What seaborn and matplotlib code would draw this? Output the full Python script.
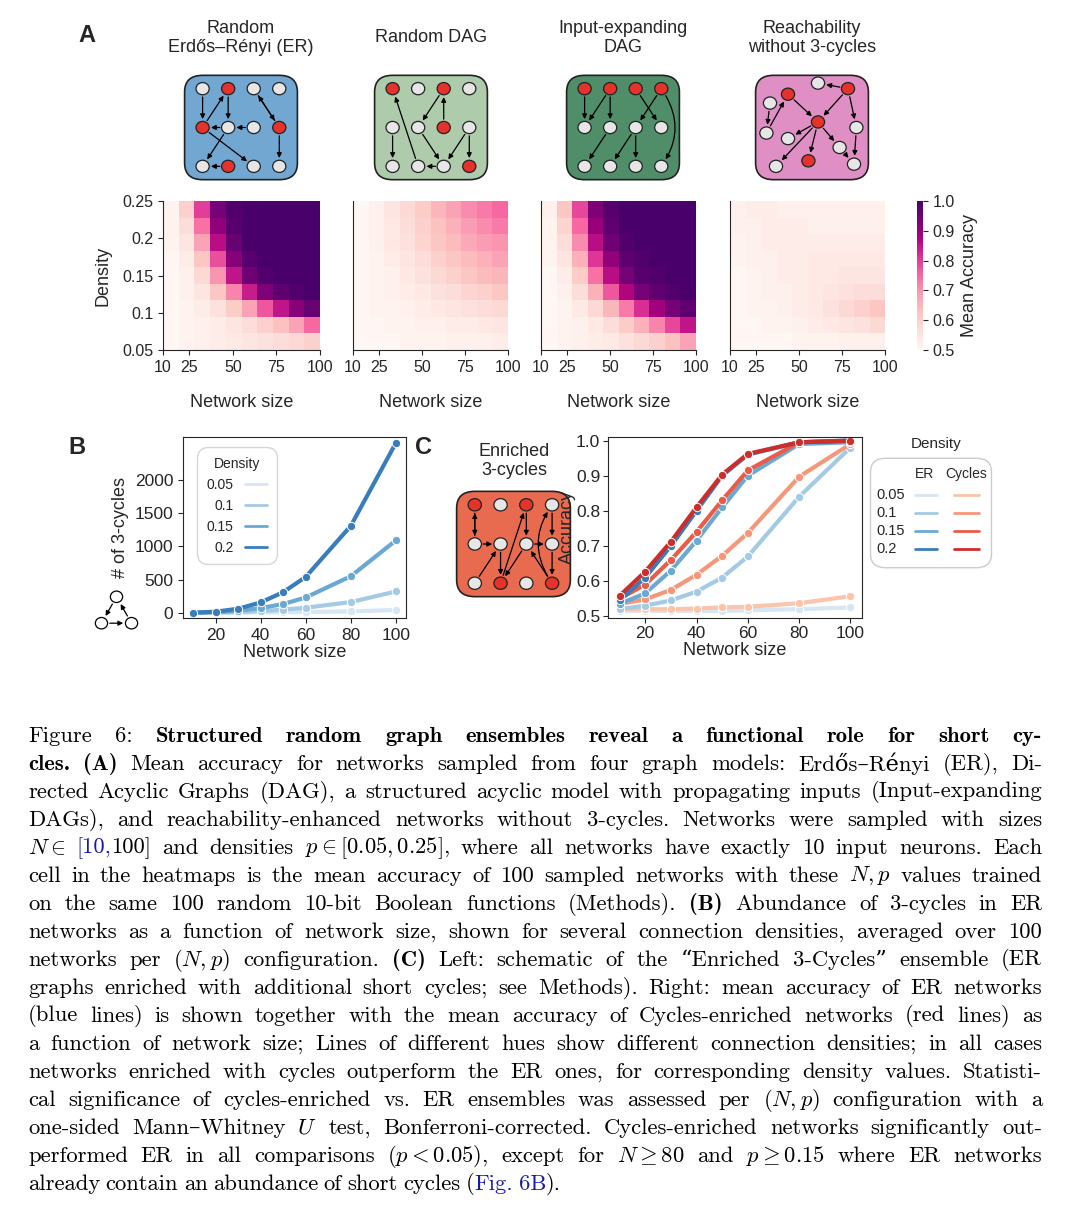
import numpy as np
import pandas as pd
import matplotlib
matplotlib.use("Agg")
import matplotlib.pyplot as plt
import seaborn as sns
from matplotlib.patches import FancyBboxPatch, Circle
from matplotlib.lines import Line2D

sns.set_style("ticks")
plt.rcParams['font.family'] = ['Liberation Sans', 'DejaVu Sans']
plt.rcParams['mathtext.fontset'] = 'cm'

# ---------------- data ----------------
heat_sizes = [10, 20, 30, 40, 50, 60, 70, 80, 90, 100]
heat_dens = [0.05, 0.075, 0.1, 0.125, 0.15, 0.175, 0.2, 0.225, 0.25]  # rows bottom -> top

acc_er = [
    [.50, .51, .52, .53, .54, .55, .56, .57, .58, .60],
    [.50, .51, .52, .53, .55, .57, .60, .63, .68, .75],
    [.50, .51, .53, .56, .61, .68, .77, .85, .92, .96],
    [.50, .52, .55, .62, .72, .84, .93, .97, .99, 1.0],
    [.50, .52, .58, .70, .85, .95, .99, 1.0, 1.0, 1.0],
    [.50, .53, .62, .78, .92, .98, 1.0, 1.0, 1.0, 1.0],
    [.51, .55, .68, .86, .96, 1.0, 1.0, 1.0, 1.0, 1.0],
    [.51, .57, .74, .91, .98, 1.0, 1.0, 1.0, 1.0, 1.0],
    [.51, .60, .80, .94, .99, 1.0, 1.0, 1.0, 1.0, 1.0],
]
acc_dag = [
    [.50, .50, .50, .51, .51, .51, .52, .52, .52, .53],
    [.50, .50, .51, .51, .52, .52, .53, .53, .54, .55],
    [.50, .51, .51, .52, .53, .54, .55, .56, .57, .58],
    [.50, .51, .52, .53, .54, .56, .57, .59, .60, .62],
    [.50, .51, .52, .54, .56, .58, .60, .62, .64, .65],
    [.50, .51, .53, .55, .57, .60, .62, .64, .66, .68],
    [.50, .52, .54, .56, .59, .62, .64, .67, .69, .70],
    [.50, .52, .54, .57, .60, .63, .66, .69, .71, .73],
    [.50, .52, .55, .58, .61, .65, .68, .71, .73, .75],
]
acc_ie = [
    [.50, .51, .52, .53, .54, .56, .58, .60, .63, .68],
    [.50, .51, .52, .54, .57, .61, .66, .72, .79, .85],
    [.50, .51, .54, .58, .65, .73, .82, .89, .94, .97],
    [.50, .52, .57, .66, .77, .87, .94, .97, .99, 1.0],
    [.50, .53, .61, .74, .86, .94, .98, .99, 1.0, 1.0],
    [.51, .55, .66, .81, .91, .97, .99, 1.0, 1.0, 1.0],
    [.51, .57, .71, .86, .95, .99, 1.0, 1.0, 1.0, 1.0],
    [.51, .59, .75, .90, .97, 1.0, 1.0, 1.0, 1.0, 1.0],
    [.52, .62, .79, .93, .98, 1.0, 1.0, 1.0, 1.0, 1.0],
]
acc_reach = [
    [.50, .50, .50, .50, .51, .51, .51, .52, .52, .52],
    [.50, .50, .51, .51, .52, .53, .54, .55, .56, .58],
    [.50, .51, .51, .52, .53, .54, .56, .58, .60, .62],
    [.50, .51, .52, .52, .53, .54, .55, .56, .57, .57],
    [.50, .51, .52, .53, .53, .54, .54, .55, .55, .55],
    [.51, .52, .52, .53, .53, .54, .54, .54, .54, .54],
    [.51, .52, .53, .53, .53, .53, .53, .53, .53, .53],
    [.52, .52, .53, .53, .53, .52, .52, .52, .52, .52],
    [.52, .53, .53, .52, .52, .52, .52, .52, .52, .52],
]
heat_titles = ["Random\nErdős–Rényi (ER)", "Random DAG", "Input-expanding\nDAG",
               "Reachability\nwithout 3-cycles"]

line_sizes = [10, 20, 30, 40, 50, 60, 80, 100]
line_dens = ["0.05", "0.1", "0.15", "0.2"]
cycles_count = {
    "0.05": [0, 0, 2, 4, 7, 10, 20, 40],
    "0.1": [0, 3, 10, 25, 45, 75, 160, 320],
    "0.15": [0, 8, 30, 70, 130, 230, 550, 1090],
    "0.2": [0, 15, 60, 155, 310, 540, 1310, 2560],
}
acc_er_lines = {
    "0.05": [.515, .515, .515, .515, .515, .517, .520, .525],
    "0.1": [.520, .530, .545, .570, .610, .670, .840, .980],
    "0.15": [.535, .565, .630, .715, .810, .900, .990, .995],
    "0.2": [.545, .610, .700, .800, .900, .960, .995, 1.0],
}
acc_cyc_lines = {
    "0.05": [.520, .520, .520, .522, .525, .527, .537, .557],
    "0.1": [.535, .548, .575, .618, .672, .737, .897, .990],
    "0.15": [.550, .590, .660, .740, .830, .915, .995, 1.0],
    "0.2": [.558, .627, .712, .810, .903, .962, .995, .999],
}

W, H = 1080, 1219
fig = plt.figure(figsize=(W / 100, H / 100), dpi=100)


def px_axes(x0, y0, x1, y1):
    return fig.add_axes([x0 / W, 1 - y1 / H, (x1 - x0) / W, (y1 - y0) / H])


# ---------------- schematic graphs ----------------
def grid(c, r):
    return (0.18 + c * 0.213, 0.85 - r * 0.35)


def draw_graph(ax, face, nodes, reds, edges, curved=()):
    ax.set_xlim(0, 1)
    ax.set_ylim(0, 1)
    ax.axis("off")
    ax.add_patch(FancyBboxPatch((0.03, 0.03), 0.94, 0.94, boxstyle="round,pad=0,rounding_size=0.15",
                                fc=face, ec="#222222", lw=1.2))
    for a, b in edges:
        ax.annotate("", xy=nodes[b], xytext=nodes[a],
                    arrowprops=dict(arrowstyle="-|>", color="black", lw=0.9,
                                    shrinkA=6, shrinkB=6, mutation_scale=7))
    for a, b in curved:
        ax.annotate("", xy=nodes[b], xytext=nodes[a],
                    arrowprops=dict(arrowstyle="-|>", color="black", lw=0.9, shrinkA=6, shrinkB=6,
                                    mutation_scale=7, connectionstyle="arc3,rad=-0.35"))
    for k, (x, y) in nodes.items():
        ax.add_patch(Circle((x, y), 0.055, fc="#e5322a" if k in reds else "#e6e6e6",
                            ec="#222222", lw=0.9, zorder=5))


gnodes = {(c, r): grid(c, r) for c in range(4) for r in range(3)}

box_specs = [
    ("#72a7d2", [(1, 0), (0, 1), (3, 1), (1, 2)],
     [((0, 0), (0, 1)), ((0, 1), (1, 0)), ((1, 0), (1, 1)), ((1, 1), (0, 1)), ((2, 1), (1, 1)),
      ((2, 0), (3, 1)), ((3, 1), (2, 0)), ((3, 1), (3, 2)), ((0, 1), (2, 2)), ((1, 1), (0, 2)),
      ((1, 2), (0, 2))], []),
    ("#aecbab", [(0, 0), (2, 0), (2, 1), (3, 2)],
     [((1, 2), (0, 0)), ((2, 1), (2, 0)), ((2, 0), (1, 1)), ((0, 1), (0, 2)), ((1, 1), (2, 2)),
      ((3, 1), (2, 2)), ((2, 2), (1, 2)), ((3, 1), (3, 2))], []),
    ("#4f8e69", [(0, 0), (1, 0), (2, 0), (3, 0)],
     [((0, 0), (0, 1)), ((1, 0), (0, 1)), ((1, 0), (1, 1)), ((2, 0), (3, 1)), ((3, 0), (2, 1)),
      ((1, 1), (0, 2)), ((2, 1), (1, 2)), ((2, 1), (2, 2))], [((3, 0), (3, 2))]),
]
box_x = [(181, 301), (371, 491), (563, 683), (752, 872)]
for i, (face, reds, edges, curved) in enumerate(box_specs):
    ax = px_axes(box_x[i][0], 72, box_x[i][1], 183)
    draw_graph(ax, face, gnodes, reds, edges, curved)

rnodes = {0: (0.15, 0.72), 1: (0.3, 0.8), 2: (0.55, 0.9), 3: (0.8, 0.85), 4: (0.12, 0.45),
          5: (0.3, 0.4), 6: (0.55, 0.55), 7: (0.87, 0.5), 8: (0.2, 0.15), 9: (0.47, 0.2),
          10: (0.73, 0.32), 11: (0.85, 0.17)}
ax = px_axes(752, 72, 872, 183)
draw_graph(ax, "#df8fc4", rnodes, [1, 3, 6, 9],
           [(3, 2), (0, 4), (4, 1), (1, 6), (3, 6), (6, 5), (6, 8), (6, 9), (6, 10), (3, 7), (7, 11), (10, 11)])

# ---------------- heatmaps ----------------
heat_x = [(163, 320), (353, 508), (541, 696), (730, 885)]
cax = px_axes(917, 201, 923, 350)
for i, data in enumerate([acc_er, acc_dag, acc_ie, acc_reach]):
    ax = px_axes(heat_x[i][0], 201, heat_x[i][1], 350)
    df = pd.DataFrame(data[::-1], index=heat_dens[::-1], columns=heat_sizes)
    sns.heatmap(df, ax=ax, cmap="RdPu", vmin=0.5, vmax=1.0, cbar=(i == 0),
                cbar_ax=cax if i == 0 else None, xticklabels=False, yticklabels=False)
    nx, ny = len(heat_sizes), len(heat_dens)
    xt = [10, 25, 50, 75, 100]
    ax.set_xticks([(v - 10) / 90 * nx for v in xt])
    ax.set_xticklabels([str(v) for v in xt], fontsize=11.5, rotation=0)
    ax.set_xlabel("Network size", fontsize=13, labelpad=14)
    ax.spines["left"].set_visible(True)
    ax.spines["bottom"].set_visible(True)
    if i == 0:
        yt = [0.05, 0.1, 0.15, 0.2, 0.25]
        ax.set_yticks([(0.25 - v) / 0.2 * ny for v in yt])
        ax.set_yticklabels([f"{v:g}" for v in yt], fontsize=11.5, rotation=0)
        ax.set_ylabel("Density", fontsize=13, labelpad=8)
    else:
        ax.set_yticks([])
    fig.text((box_x[i][0] + box_x[i][1]) / 2 / W, 1 - 38 / H, heat_titles[i], ha="center",
             va="center", fontsize=13)
cax.set_yticks([0.5, 0.6, 0.7, 0.8, 0.9, 1.0])
cax.tick_params(labelsize=11.5)
cax.set_ylabel("Mean Accuracy", fontsize=13)
fig.text(78 / W, 1 - 36 / H, "A", fontsize=17, fontweight="bold", va="center")

# ---------------- panel B ----------------
blues = {"0.05": "#d6e6f4", "0.1": "#a5cbe4", "0.15": "#6aa9d4", "0.2": "#3a7dbd"}
reds_c = {"0.05": "#fbc5ab", "0.1": "#f4977a", "0.15": "#ea5c49", "0.2": "#cc2e2b"}
rows = []
for d in line_dens:
    for n, v in zip(line_sizes, cycles_count[d]):
        rows.append({"Network size": n, "count": v, "Density": d})
dfb = pd.DataFrame(rows)
axb = px_axes(183, 437, 406, 618)
sns.lineplot(data=dfb, x="Network size", y="count", hue="Density", palette=blues, marker="o",
             lw=3, markersize=6, markeredgecolor="white", markeredgewidth=0.7, ax=axb)
axb.set_ylim(-80, 2650)
axb.set_yticks([0, 500, 1000, 1500, 2000])
axb.set_xticks([20, 40, 60, 80, 100])
axb.tick_params(labelsize=12.5)
axb.set_xlabel("Network size", fontsize=13, labelpad=1)
axb.set_ylabel("# of 3-cycles", fontsize=13, labelpad=4)
leg = axb.legend(title="Density", fontsize=10, title_fontsize=10, loc="upper left",
                 bbox_to_anchor=(0.05, 0.96), markerfirst=False, handlelength=1.6, frameon=True)
for h in leg.get_lines():
    h.set_marker("")
    h.set_linewidth(2)
leg.get_frame().set_boxstyle("round,pad=0.3,rounding_size=0.8")
fig.text(68 / W, 1 - 448 / H, "B", fontsize=17, fontweight="bold", va="center")

tri = px_axes(93, 588, 140, 632)
tri.set_xlim(0, 1); tri.set_ylim(0, 1); tri.axis("off")
tn = {0: (0.5, 0.8), 1: (0.18, 0.2), 2: (0.82, 0.2)}
for a, b in [(0, 1), (1, 2), (2, 0)]:
    tri.annotate("", xy=tn[b], xytext=tn[a], arrowprops=dict(arrowstyle="-|>", lw=0.9,
                 color="black", shrinkA=6, shrinkB=6, mutation_scale=7))
for x, y in tn.values():
    tri.add_patch(Circle((x, y), 0.13, fc="white", ec="black", lw=0.9, zorder=5))

# ---------------- panel C ----------------
fig.text(415 / W, 1 - 448 / H, "C", fontsize=17, fontweight="bold", va="center")
fig.text(514 / W, 1 - 461 / H, "Enriched\n3-cycles", ha="center", va="center", fontsize=13)
ax = px_axes(453, 488, 574, 600)
draw_graph(ax, "#e86a4f", gnodes, [(0, 0), (2, 0), (1, 2), (3, 2)],
           [((0, 0), (0, 1)), ((0, 1), (0, 0)), ((0, 1), (1, 1)), ((0, 2), (1, 1)), ((1, 1), (1, 2)),
            ((1, 2), (2, 0)), ((2, 0), (2, 1)), ((2, 1), (3, 1)), ((3, 0), (3, 1)), ((3, 1), (3, 2)),
            ((3, 2), (2, 1)), ((2, 1), (1, 2))], [((3, 2), (3, 0))])

rows = []
for d in line_dens:
    for n, v in zip(line_sizes, acc_er_lines[d]):
        rows.append({"Network size": n, "acc": v, "key": "ER " + d})
    for n, v in zip(line_sizes, acc_cyc_lines[d]):
        rows.append({"Network size": n, "acc": v, "key": "Cyc " + d})
dfc = pd.DataFrame(rows)
pal = {**{"ER " + d: blues[d] for d in line_dens}, **{"Cyc " + d: reds_c[d] for d in line_dens}}
axc = px_axes(608, 437, 862, 618)
sns.lineplot(data=dfc, x="Network size", y="acc", hue="key", palette=pal, marker="o", lw=3,
             markersize=6, markeredgecolor="white", markeredgewidth=0.7, ax=axc, legend=False)
axc.set_ylim(0.495, 1.01)
axc.set_yticks([0.5, 0.6, 0.7, 0.8, 0.9, 1.0])
axc.set_xticks([20, 40, 60, 80, 100])
axc.tick_params(labelsize=12.5, pad=2)
axc.set_xlabel("Network size", fontsize=13, labelpad=1)
axc.set_ylabel("Accuracy", fontsize=13, labelpad=0)

lg = px_axes(868, 456, 994, 570)
lg.set_xlim(0, 1); lg.set_ylim(0, 1); lg.axis("off")
lg.add_patch(FancyBboxPatch((0.02, 0.02), 0.96, 0.96, boxstyle="round,pad=0,rounding_size=0.12",
                            fc="white", ec="#cccccc", lw=1))
fig.text(936 / W, 1 - 444 / H, "Density", ha="center", va="center", fontsize=11)
lg.text(0.45, 0.84, "ER", ha="center", va="center", fontsize=10)
lg.text(0.78, 0.84, "Cycles", ha="center", va="center", fontsize=10)
for j, d in enumerate(line_dens):
    yy = 0.66 - j * 0.16
    lg.text(0.07, yy, d, va="center", fontsize=10.5)
    lg.add_line(Line2D([0.37, 0.55], [yy, yy], color=blues[d], lw=2))
    lg.add_line(Line2D([0.68, 0.88], [yy, yy], color=reds_c[d], lw=2))

# ---------------- caption ----------------
# words: "*" = bold, "#" = link colour, trailing "^" = no space after
caption = [
    "Figure 6: *Structured *random *graph *ensembles *reveal *a *functional *role *for *short *cy-",
    "*cles. *(A) Mean accuracy for networks sampled from four graph models: Erdős–Rényi (ER), Di-",
    "rected Acyclic Graphs (DAG), a structured acyclic model with propagating inputs (Input-expanding",
    "DAGs), and reachability-enhanced networks without 3-cycles. Networks were sampled with sizes",
    r"$N\in$ #[10,^ 100] and densities $p\in[0.05,0.25]$, where all networks have exactly 10 input neurons. Each",
    r"cell in the heatmaps is the mean accuracy of 100 sampled networks with these $N,p$ values trained",
    "on the same 100 random 10-bit Boolean functions (Methods). *(B) Abundance of 3-cycles in ER",
    "networks as a function of network size, shown for several connection densities, averaged over 100",
    r"networks per $(N,p)$ configuration. *(C) Left: schematic of the “Enriched 3-Cycles” ensemble (ER",
    "graphs enriched with additional short cycles; see Methods). Right: mean accuracy of ER networks",
    "(blue lines) is shown together with the mean accuracy of Cycles-enriched networks (red lines) as",
    "a function of network size; Lines of different hues show different connection densities; in all cases",
    "networks enriched with cycles outperform the ER ones, for corresponding density values. Statisti-",
    r"cal significance of cycles-enriched vs. ER ensembles was assessed per $(N,p)$ configuration with a",
    r"one-sided Mann–Whitney $U$ test, Bonferroni-corrected. Cycles-enriched networks significantly out-",
    r"performed ER in all comparisons ($p<0.05$), except for $N\geq80$ and $p\geq0.15$ where ER networks",
    "already contain an abundance of short cycles (^ #Fig. #6B^ ).",
]
fig.canvas.draw()
rend = fig.canvas.get_renderer()
x_left, x_right = 28, 1042
for li, line in enumerate(caption):
    y = 1 - (736 + li * 28.0) / H
    words = line.split(" ")
    fs = 16.3
    while True:
        texts, glue = [], []
        for w in words:
            g = w.endswith("^")
            w = w.rstrip("^")
            fam = ["cmr10", "DejaVu Serif"]
            col = "black"
            if w.startswith("*"):
                w, fam = w[1:], ["cmb10", "DejaVu Serif"]
            elif w.startswith("#"):
                w, col = w[1:], "#1a1aa6"
            texts.append(fig.text(0, y, w, fontsize=fs, family=fam, va="center", color=col))
            glue.append(g)
        widths = [t.get_window_extent(rend).width for t in texts]
        nsp = sum(1 for g in glue[:-1] if not g)
        if li < len(caption) - 1:
            gap = (x_right - x_left - sum(widths)) / max(nsp, 1)
        else:
            gap = 5.5
        if gap >= 3.5 or fs < 12:
            break
        for t in texts:
            t.remove()
        fs -= 0.3
    x = x_left
    for t, w, g in zip(texts, widths, glue):
        t.set_x(x / W)
        x += w + (0 if g else gap)

fig.savefig("out.png", dpi=100)
